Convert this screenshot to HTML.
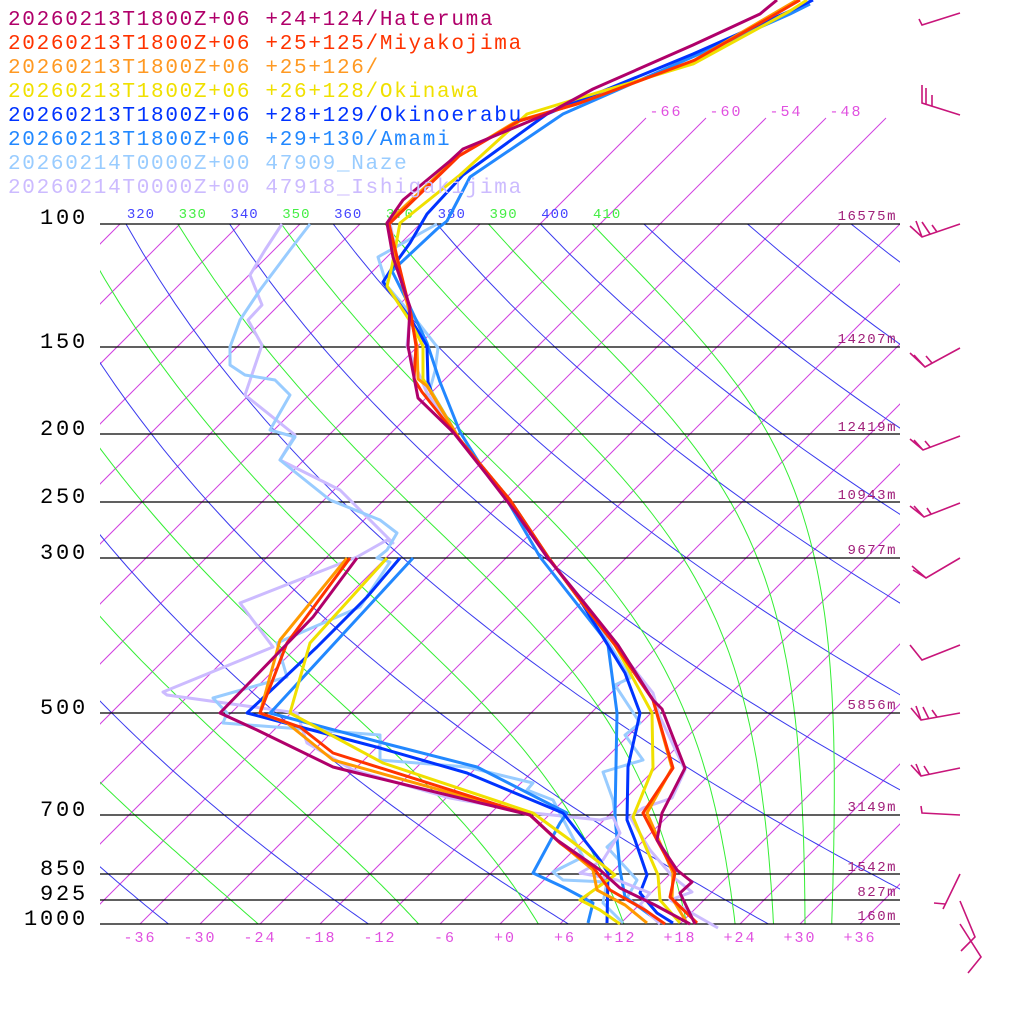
<!DOCTYPE html>
<html><head><meta charset="utf-8"><style>
html,body{margin:0;padding:0;background:#fff;}
svg{display:block;}
text{font-family:"Liberation Mono",monospace;}
</style></head><body>
<svg id="s" width="1024" height="1024" viewBox="0 0 1024 1024" xmlns="http://www.w3.org/2000/svg">
<defs><clipPath id="c"><rect x="100" y="224" width="800" height="700"/></clipPath>
<clipPath id="c2"><rect x="100" y="100" width="800" height="824"/></clipPath></defs>
<g id="grid" clip-path="url(#c)" fill="none" stroke-width="1"></g>
<g id="gridtop" clip-path="url(#c2)" fill="none" stroke-width="1"></g>
<g id="hl" stroke="#000" stroke-width="1.2">
<line x1="100" y1="224" x2="900" y2="224"/><line x1="100" y1="347" x2="900" y2="347"/>
<line x1="100" y1="434" x2="900" y2="434"/><line x1="100" y1="502" x2="900" y2="502"/>
<line x1="100" y1="558" x2="900" y2="558"/><line x1="100" y1="713" x2="900" y2="713"/>
<line x1="100" y1="815" x2="900" y2="815"/><line x1="100" y1="874" x2="900" y2="874"/>
<line x1="100" y1="900" x2="900" y2="900"/><line x1="100" y1="924" x2="900" y2="924"/>
</g>
<g font-size="22" letter-spacing="2.8" fill="#000" text-anchor="end">
<text x="88" y="224">100</text><text x="88" y="348">150</text><text x="88" y="435">200</text>
<text x="88" y="503">250</text><text x="88" y="559">300</text><text x="88" y="714">500</text>
<text x="88" y="816">700</text><text x="88" y="875">850</text><text x="88" y="900">925</text>
<text x="88" y="925">1000</text>
</g>
<g font-size="14" letter-spacing="1.5" fill="#a0207a" text-anchor="end">
<text x="897" y="220">16575m</text><text x="897" y="343">14207m</text><text x="897" y="431">12419m</text>
<text x="897" y="499">10943m</text><text x="897" y="554">9677m</text><text x="897" y="709">5856m</text>
<text x="897" y="811">3149m</text><text x="897" y="871">1542m</text><text x="897" y="896">827m</text>
<text x="897" y="920">160m</text>
</g>
<g font-size="15" letter-spacing="2" fill="#e050e0" text-anchor="middle">
<text x="140" y="942">-36</text><text x="200" y="942">-30</text><text x="260" y="942">-24</text>
<text x="320" y="942">-18</text><text x="380" y="942">-12</text><text x="445" y="942">-6</text>
<text x="505" y="942">+0</text><text x="565" y="942">+6</text><text x="620" y="942">+12</text>
<text x="680" y="942">+18</text><text x="740" y="942">+24</text><text x="800" y="942">+30</text>
<text x="860" y="942">+36</text>
<text x="666" y="116">-66</text><text x="726" y="116">-60</text><text x="786" y="116">-54</text><text x="846" y="116">-48</text>
</g>
<g id="thl" font-size="14" letter-spacing="1" text-anchor="middle"></g>
<g fill="none" stroke-width="3" stroke-linejoin="round" id="data">
<polyline stroke="#ccbbff" points="390,223 397,257 410,314 407,346 427,393 460,440 510,500 548,557 580,600 615,645 653,693 660,717 685,770 672,798 643,808 630,817 650,850 673,877 692,892 670,900 690,912 718,928"/>
<polyline stroke="#99ccff" points="437,224 378,257 387,286 417,321 438,348 435,371 430,389 460,440 510,500 548,557 580,600 610,645 630,678 615,685 640,723 625,735 643,760 603,772 613,800 618,837 607,847 637,880 627,898 663,923"/>
<polyline stroke="#2288ff" points="810,4 790,14 690,58 563,114 470,177 447,221 437,229 392,271 410,307 427,343 440,382 460,432 480,464 507,500 540,557 603,637 608,645 617,713 615,817 620,870 625,897 650,915 660,923"/>
<polyline stroke="#0033ff" points="813,0 790,11 693,54 547,114 463,175 427,214 410,243 392,268 383,282 410,318 427,346 428,382 432,393 460,440 510,500 548,557 580,600 625,673 640,713 628,767 627,820 635,840 647,875 640,893 657,913 673,923"/>
<polyline stroke="#f0e000" points="807,0 790,11 693,64 573,100 527,114 460,175 400,223 392,266 387,286 410,321 423,346 423,379 432,393 460,440 510,500 548,557 580,600 615,645 652,713 653,768 633,817 647,850 658,875 660,900 680,923"/>
<polyline stroke="#ff9900" points="797,0 773,14 693,61 577,104 517,121 457,157 387,223 395,257 410,314 417,346 418,379 427,386 460,440 510,500 548,557 580,600 615,645 653,700 672,768 647,813 660,843 673,873 672,898 687,923"/>
<polyline stroke="#ff3300" points="800,0 776,14 695,60 580,103 519,121 459,156 389,224 397,257 411,314 416,346 414,379 422,392 460,440 510,500 548,557 580,600 615,645 653,700 673,768 643,813 657,840 675,873 670,897 697,923"/>
<polyline stroke="#b0006a" points="777,0 760,14 693,45 593,89 547,114 463,149 450,161 403,200 387,223 393,257 410,307 408,346 418,398 453,432 487,475 517,514 547,557 582,600 618,645 653,700 662,709 685,768 662,813 657,840 677,870 692,882 680,893 695,924"/>
<polyline stroke="#ccbbff" points="282,224 265,250 250,275 262,305 248,320 262,345 245,395 295,435 280,460 340,490 393,543 387,540 357,557 240,603 273,647 163,692 167,695 297,713 307,743 353,770 450,798 533,813 600,820 613,817 620,833 603,860 580,873 617,880 650,893 640,905 660,924"/>
<polyline stroke="#99ccff" points="310,224 290,250 260,290 240,320 230,347 230,365 245,375 275,380 290,395 270,430 295,437 280,460 330,500 380,520 397,533 387,550 377,558 390,562 360,607 277,643 287,677 213,698 227,713 223,723 380,735 380,760 467,767 533,783 527,790 553,800 583,857 553,872 563,880 607,882 603,903 623,923"/>
<polyline stroke="#2288ff" points="413,558 273,710 270,713 383,743 477,767 567,813 560,823 533,873 563,887 593,903 588,923"/>
<polyline stroke="#0033ff" points="400,558 367,597 317,647 247,713 380,748 467,773 563,813 600,860 608,873 607,923"/>
<polyline stroke="#f0e000" points="387,558 310,643 290,713 383,763 533,813 570,840 600,863 615,875 580,900 600,910 620,924"/>
<polyline stroke="#ff9900" points="347,558 280,640 260,713 287,723 333,760 530,815 557,840 593,870 597,890 625,905 647,923"/>
<polyline stroke="#ff3300" points="350,558 287,643 260,713 300,727 333,753 530,815 560,843 593,867 610,890 645,910 665,924"/>
<polyline stroke="#b0006a" points="357,558 313,617 220,713 257,730 333,767 353,772 530,815 557,840 600,870 620,888 655,905 690,924"/>
</g>
<g stroke="#c8157a" stroke-width="1.6" fill="none">
<path d="M960,13 L922,25 L919,19"/>
<path d="M960,115 L922,103 L922,85 M926,104 L926,88 M932,106 L932,95"/>
<path d="M960,224 L922,237 L910,226 M922,237 L916,221 M930,234 L922,222 M937,232 L932,225"/>
<path d="M960,348 L925,367 L910,353 M925,367 L914,355 M932,363 L926,356"/>
<path d="M960,436 L923,450 L910,439 M923,450 L914,440 M930,447 L925,441"/>
<path d="M960,503 L924,517 L910,506 M924,517 L914,506 M931,514 L927,508"/>
<path d="M960,558 L926,578 L912,566 M926,578 L913,570"/>
<path d="M960,645 L922,660 L910,645"/>
<path d="M960,713 L921,720 L911,708 M921,720 L916,706 M929,719 L923,707 M937,717 L932,710"/>
<path d="M960,768 L921,776 L911,765 M921,776 L916,764 M929,774 L924,766"/>
<path d="M960,815 L922,813 L921,806"/>
<path d="M960,874 L943,909 M934,903 L945,904"/>
<path d="M960,901 L975,937 L961,951"/>
<path d="M960,924 L981,957 L968,973"/>
</g>
<g font-size="21" letter-spacing="1.7">
<text x="8" y="25" fill="#b0006a">20260213T1800Z+06 +24+124/Hateruma</text>
<text x="8" y="49" fill="#ff3300">20260213T1800Z+06 +25+125/Miyakojima</text>
<text x="8" y="73" fill="#ff9922">20260213T1800Z+06 +25+126/</text>
<text x="8" y="97" fill="#f0e000">20260213T1800Z+06 +26+128/Okinawa</text>
<text x="8" y="121" fill="#0033ff">20260213T1800Z+06 +28+129/Okinoerabu</text>
<text x="8" y="145" fill="#2288ff">20260213T1800Z+06 +29+130/Amami</text>
<text x="8" y="169" fill="#99ccff">20260214T0000Z+00 47909_Naze</text>
<text x="8" y="193" fill="#ccbbff">20260214T0000Z+00 47918_Ishigakijima</text>
</g>
</svg>
<script>
(function(){
var NS="http://www.w3.org/2000/svg";
function yp(p){return 924-304*Math.log(1000/p);}
function xt(T,y){return 500+10*T+(924-y);}
var g=document.getElementById("grid"),gt=document.getElementById("gridtop"),tl=document.getElementById("thl");
function pl(par,pts,col){var e=document.createElementNS(NS,"polyline");e.setAttribute("points",pts.map(function(q){return q[0].toFixed(1)+","+q[1].toFixed(1)}).join(" "));e.setAttribute("stroke",col);par.appendChild(e);}
for(var T=-120;T<=60;T+=6){pl(g,[[xt(T,924),924],[xt(T,224),224]],"#d040e0");}
for(var T=-66;T<=-42;T+=6){pl(gt,[[xt(T,224),224],[xt(T,118),118]],"#d040e0");}
for(var th=200;th<=460;th+=20){var pts=[];for(var p=100;p<=1000;p+=10){var Tc=th*Math.pow(p/1000,0.2857)-273.15;var y=yp(p);pts.push([xt(Tc,y),y]);}pl(g,pts,"#3a3aee");}
for(var th=230;th<=410;th+=20){var pts=[];var TK=th*Math.pow(0.1,0.2857);for(var p=100;p<=1000;p+=1){if(p%10==0){var y=yp(p);pts.push([xt(TK-273.15,y),y]);}var Tc=TK-273.15;var es=6.112*Math.exp(17.67*Tc/(Tc+243.5));var rs=0.622*es/Math.max(p-es,1);var d=(287*TK+2.5e6*rs)/(p*(1004+2.5e6*2.5e6*rs*0.622/(287*TK*TK)));TK+=d;}pl(g,pts,"#33ee33");}
for(var th=310;th<=410;th+=10){var Tc=th*Math.pow(0.1,0.2857)-273.15;var x=xt(Tc,224)+15;var t=document.createElementNS(NS,"text");t.setAttribute("x",x);t.setAttribute("y",218);t.setAttribute("fill",(th%20==0)?"#4444ff":"#44ee44");t.textContent=th;if(x>95)tl.appendChild(t);}
})();
</script>
</body></html>
